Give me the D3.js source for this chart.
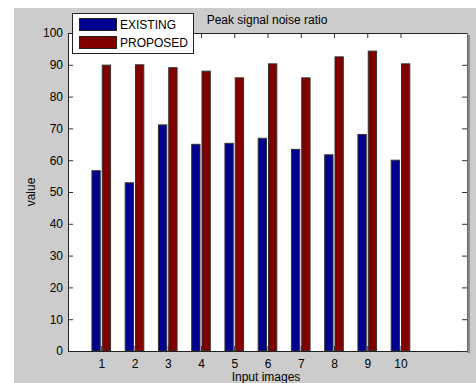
<!DOCTYPE html>
<html><head><meta charset="utf-8">
<script src="https://cdn.jsdelivr.net/npm/d3@7"></script>
<style>body{margin:0;background:#fff;}svg{display:block;font-family:"Liberation Sans",Arial,sans-serif;}</style>
</head><body>
<svg id="c" width="476" height="383"></svg>
<script>
const categories = [1,2,3,4,5,6,7,8,9,10];
const existing = [56.7,52.9,71.1,65.0,65.3,66.9,63.4,61.7,68.1,60.0];
const proposed = [89.9,90.0,89.1,88.0,85.9,90.3,85.9,92.5,94.3,90.3];
const yTicks = [0,10,20,30,40,50,60,70,80,90,100];
const seriesNames = ["EXISTING","PROPOSED"];
const colors = ["#00008f","#800000"];

const svg = d3.select("#c");
svg.append("rect").attr("x",14).attr("y",8).attr("width",462).attr("height",375).attr("fill","#cccccc");

const L=68, R=467, T=33, B=351;
const x = d3.scaleLinear().domain([0,12]).range([L,R]);
const y = d3.scaleLinear().domain([0,100]).range([B,T]);

// plot background + shadow
svg.append("rect").attr("x",R).attr("y",T+2).attr("width",3).attr("height",B-T).attr("fill","#8a8a8a");
svg.append("rect").attr("x",L).attr("y",T).attr("width",R-L).attr("height",B-T).attr("fill","#fff");

const g = svg.append("g");
const bw = 0.25;
[existing, proposed].forEach((vals,si)=>{
  g.selectAll(".b"+si).data(vals).enter().append("rect")
    .attr("x",(d,i)=>x(categories[i] + (si===0 ? -0.28 : 0.03)))
    .attr("width",x(bw)-x(0))
    .attr("y",d=>y(d))
    .attr("height",d=>y(0)-y(d))
    .attr("fill",colors[si])
    .attr("stroke","#333").attr("stroke-width",1);
});

// axes
const axL = d3.axisLeft(y).tickValues(yTicks).tickSize(-5).tickPadding(5);
const axB = d3.axisBottom(x).tickValues(categories).tickSize(-5).tickPadding(8);
const axT = d3.axisTop(x).tickValues(categories).tickSize(-5).tickFormat("");
const axR = d3.axisRight(y).tickValues(yTicks).tickSize(-5).tickFormat("");
function style(sel){
  sel.selectAll("text").attr("font-size",12).attr("fill","#000").attr("font-family","Liberation Sans, Arial, sans-serif");
  sel.selectAll("line").attr("stroke","#333");
  sel.select(".domain").attr("stroke","#222");
}
svg.append("g").attr("transform",`translate(${L},0)`).call(axL).call(style);
svg.append("g").attr("transform",`translate(0,${B})`).call(axB).call(style);
svg.append("g").attr("transform",`translate(0,${T})`).call(axT).call(style);
svg.append("g").attr("transform",`translate(${R},0)`).call(axR).call(style).select(".domain").attr("stroke","#666");

// title & labels
svg.append("text").attr("x",267).attr("y",24).attr("text-anchor","middle").attr("font-size",12).text("Peak signal noise ratio");
svg.append("text").attr("x",266).attr("y",381).attr("text-anchor","middle").attr("font-size",12).text("Input images");
svg.append("text").attr("transform","translate(35,192) rotate(-90)").attr("text-anchor","middle").attr("font-size",12).text("value");

// legend
const lg = svg.append("g");
lg.append("rect").attr("x",72.5).attr("y",13.5).attr("width",121).attr("height",40).attr("fill","#fff").attr("stroke","#222");
seriesNames.forEach((n,i)=>{
  lg.append("rect").attr("x",79.5).attr("y",18.5+i*18).attr("width",37).attr("height",12).attr("fill",colors[i]).attr("stroke","#222");
  lg.append("text").attr("x",120).attr("y",29+i*18).attr("font-size",12).text(n);
});
</script>
</body></html>
